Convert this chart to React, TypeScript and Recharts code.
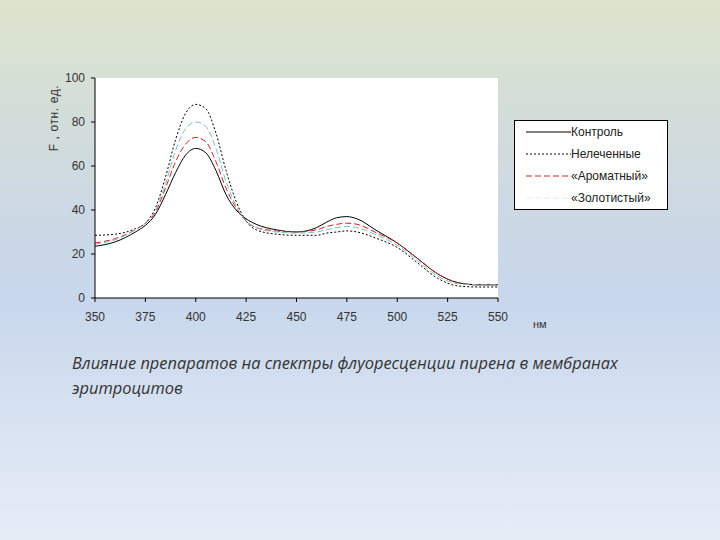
import { CartesianGrid, Line, LineChart, XAxis, YAxis } from 'recharts';

const wavelengths = [350, 360, 370, 375, 380, 385, 390, 395, 400, 405, 410, 415, 420, 425, 430, 440, 450, 460, 465, 470, 475, 480, 490, 500, 510, 520, 530, 540, 550];
const control = [23.5, 25.5, 30, 33, 38, 47, 57, 65, 68, 66, 58, 47, 40, 36, 33.5, 31, 30, 32, 34.5, 36.5, 37, 36, 30.5, 25, 18, 11, 7, 6, 6];
const untreated = [28.5, 29, 31.5, 34, 41, 55, 72, 84, 88, 86, 75, 58, 44, 35, 31, 29, 28.5, 28.5, 29.5, 30, 30.5, 30, 27, 23, 16, 9, 5.5, 5, 5];
const aromatic = [25, 27, 31, 34, 39, 50, 62, 70, 73, 71, 62, 50, 41, 35, 32, 30.5, 30, 31, 32.5, 33.5, 34, 33.5, 29.5, 25, 18, 11, 7, 6, 6];
const golden = [24.5, 26.5, 31, 34, 40, 52, 67, 77, 80, 78, 68, 53, 42, 35, 32, 30, 29.5, 30, 31, 32, 32.5, 32, 28.5, 24, 17, 10, 6.5, 6, 6];
const xTicks = [350, 375, 400, 425, 450, 475, 500, 525, 550];
const yTicks = [0, 20, 40, 60, 80, 100];

const series = [
  { key: 'control', name: 'Контроль', stroke: '#000', dash: undefined },
  { key: 'untreated', name: 'Нелеченные', stroke: '#000', dash: '2 2' },
  { key: 'aromatic', name: '«Ароматный»', stroke: '#d42020', dash: '6 3' },
  { key: 'golden', name: '«Золотистый»', stroke: '#7cc0bc', dash: '6 3' },
];

const data = wavelengths.map((w, i) => ({
  nm: w,
  control: control[i],
  untreated: untreated[i],
  aromatic: aromatic[i],
  golden: golden[i],
}));

const font = '"Liberation Sans", Arial, sans-serif';

export default function App() {
  return (
    <div style={{ position: 'absolute', left: 0, top: 0, width: 720, height: 540, background: 'linear-gradient(180deg, #dce4cc 0%, #ced9e2 35%, #c8d7ec 55%, #e7edf7 100%)', overflow: 'hidden' }}>
      <LineChart width={720} height={540} data={data} margin={{ top: 78, right: 222, left: 0, bottom: 212 }}>
        <CartesianGrid fill="#fff" horizontal={false} vertical={false} />
        <XAxis
          dataKey="nm"
          type="number"
          domain={[350, 550]}
          ticks={xTicks}
          height={30}
          tickSize={4}
          tickMargin={10}
          stroke="#000"
          tick={{ fill: '#333', fontSize: 12, fontFamily: font }}
        />
        <YAxis
          domain={[0, 100]}
          ticks={yTicks}
          width={95}
          tickSize={4}
          tickMargin={6}
          stroke="#000"
          tick={{ fill: '#333', fontSize: 12, fontFamily: font }}
        />
        {series.map((s) => (
          <Line
            key={s.key}
            type="monotone"
            dataKey={s.key}
            name={s.name}
            stroke={s.stroke}
            strokeWidth={1}
            strokeDasharray={s.dash}
            dot={false}
            isAnimationActive={false}
          />
        ))}
      </LineChart>
      <div style={{ position: 'absolute', left: 514, top: 120, width: 152, height: 88, border: '1px solid #000', background: '#fff', fontFamily: font, fontSize: 12, color: '#222' }}>
        {series.map((s) => (
          <div key={s.key} style={{ display: 'flex', alignItems: 'center', height: 22 }}>
            <svg width={56} height={10}>
              <line x1={11} y1={5} x2={56} y2={5} stroke={s.stroke} strokeWidth={1} strokeDasharray={s.dash} strokeOpacity={s.key === 'golden' ? 0.25 : 1} />
            </svg>
            <span>{s.name}</span>
          </div>
        ))}
      </div>
      <div style={{ position: 'absolute', left: 54, top: 118, transform: 'translate(-50%, -50%) rotate(-90deg)', whiteSpace: 'nowrap', fontFamily: font, fontSize: 12, letterSpacing: 0.6, color: '#333' }}>
        F , отн. ед.
      </div>
      <div style={{ position: 'absolute', left: 533, top: 318, fontFamily: font, fontSize: 11, color: '#333' }}>нм</div>
      <div style={{ position: 'absolute', left: 72, top: 350, width: 620, fontFamily: '"Open Sans", sans-serif', fontStyle: 'italic', fontSize: 16.4, lineHeight: '25px', color: '#333' }}>
        Влияние препаратов на спектры флуоресценции пирена в мембранах эритроцитов
      </div>
    </div>
  );
}
